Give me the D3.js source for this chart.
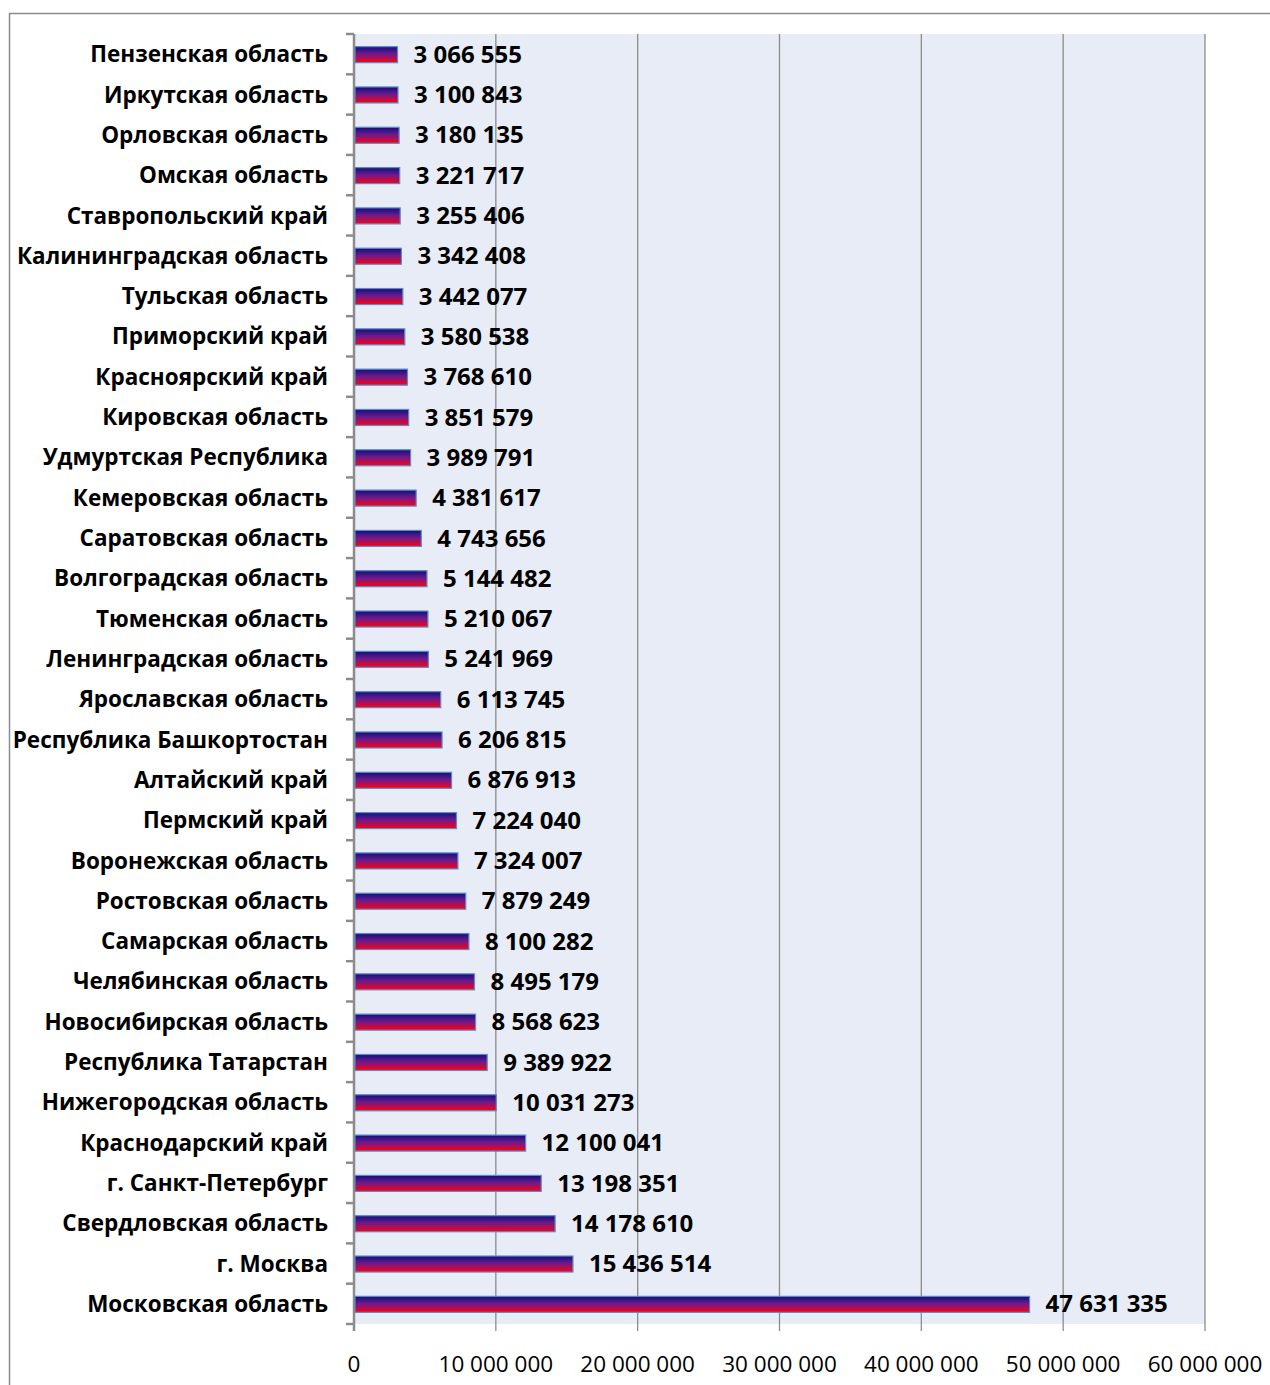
<!DOCTYPE html>
<html><head><meta charset="utf-8">
<script src="https://cdn.jsdelivr.net/npm/d3@7"></script>
<style>body{margin:0;background:#fff}svg{display:block}</style>
</head><body>
<script>
const categories = ["Пензенская область","Иркутская область","Орловская область","Омская область","Ставропольский край","Калининградская область","Тульская область","Приморский край","Красноярский край","Кировская область","Удмуртская Республика","Кемеровская область","Саратовская область","Волгоградская область","Тюменская область","Ленинградская область","Ярославская область","Республика Башкортостан","Алтайский край","Пермский край","Воронежская область","Ростовская область","Самарская область","Челябинская область","Новосибирская область","Республика Татарстан","Нижегородская область","Краснодарский край","г. Санкт-Петербург","Свердловская область","г. Москва","Московская область"];
const values = [3066555,3100843,3180135,3221717,3255406,3342408,3442077,3580538,3768610,3851579,3989791,4381617,4743656,5144482,5210067,5241969,6113745,6206815,6876913,7224040,7324007,7879249,8100282,8495179,8568623,9389922,10031273,12100041,13198351,14178610,15436514,47631335];
const xTicks = [0,10000000,20000000,30000000,40000000,50000000,60000000];

const W=1270,H=1385;
const m={left:354,top:34,right:1205,bottom:1324};
const svg=d3.select("body").append("svg").attr("width",W).attr("height",H);
const fmt=v=>d3.format(",")(v).replace(/,/g," ");
const FF="Open Sans, sans-serif";

const defs=svg.append("defs");
const g=defs.append("linearGradient").attr("id","bg").attr("x1",0).attr("y1",0).attr("x2",0).attr("y2",1);
g.append("stop").attr("offset","0%").attr("stop-color","#10107a");
g.append("stop").attr("offset","45%").attr("stop-color","#6a1b8e");
g.append("stop").attr("offset","100%").attr("stop-color","#ff0010");

svg.append("rect").attr("x",9.5).attr("y",13.5).attr("width",1400).attr("height",1500)
  .attr("fill","#fff").attr("stroke","#8c8c8c").attr("stroke-width",1.5);

const x=d3.scaleLinear().domain([0,60000000]).range([m.left,m.right]);
const y=d3.scaleBand().domain(categories).range([m.top,m.bottom]);

svg.append("rect").attr("x",m.left).attr("y",m.top).attr("width",m.right-m.left).attr("height",m.bottom-m.top).attr("fill","#e8ecf6");

svg.append("g").selectAll("line").data(xTicks.slice(1)).join("line")
  .attr("x1",d=>x(d)).attr("x2",d=>x(d)).attr("y1",m.top).attr("y2",m.bottom+7)
  .attr("stroke","#8c8c8c").attr("stroke-width",1.3);

svg.append("g").selectAll("text").data(xTicks).join("text")
  .attr("x",d=>x(d)).attr("y",1372).attr("text-anchor","middle")
  .attr("font-family",FF).attr("font-size",22.5).attr("fill","#000")
  .text(d=>fmt(d));

const ax=svg.append("g");
ax.append("line").attr("x1",m.left).attr("x2",m.left).attr("y1",m.top).attr("y2",m.bottom+7).attr("stroke","#8c8c8c").attr("stroke-width",2.5);
const bounds=categories.map(c=>y(c)).concat([m.bottom]);
ax.selectAll("line.t").data(bounds).join("line").attr("class","t")
  .attr("x1",m.left-8).attr("x2",m.left).attr("y1",d=>d).attr("y2",d=>d)
  .attr("stroke","#8c8c8c").attr("stroke-width",2.5);

const bh=16;
svg.append("g").selectAll("rect").data(values).join("rect")
  .attr("x",x(0)+1).attr("y",(d,i)=>y(categories[i])+y.bandwidth()/2-bh/2+0.5)
  .attr("width",d=>x(d)-x(0)-1).attr("height",bh)
  .attr("fill","url(#bg)").attr("stroke","#5b8ac4").attr("stroke-width",1.2);

svg.append("g").selectAll("text").data(categories).join("text")
  .attr("x",328).attr("y",d=>y(d)+y.bandwidth()/2).attr("dy","0.36em")
  .attr("text-anchor","end").attr("font-family",FF).attr("font-weight","bold").attr("font-size",22.5)
  .attr("fill","#000").text(d=>d);

svg.append("g").selectAll("text").data(values).join("text")
  .attr("x",d=>x(d)+16).attr("y",(d,i)=>y(categories[i])+y.bandwidth()/2).attr("dy","0.36em")
  .attr("font-family",FF).attr("font-weight","bold").attr("font-size",24)
  .attr("fill","#000").text(d=>fmt(d));
</script>
</body></html>
